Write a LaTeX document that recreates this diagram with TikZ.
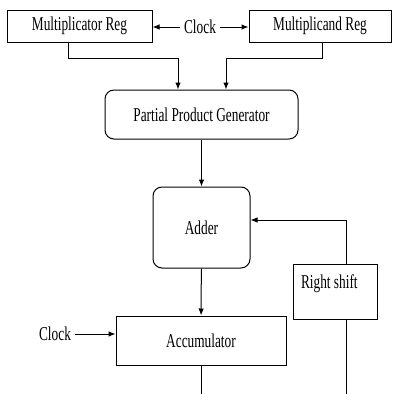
\documentclass[tikz,border=0pt]{standalone}
\usepackage{fontspec}
\setmainfont{Liberation Serif}[FakeStretch=0.68]
\usetikzlibrary{arrows.meta, positioning}

\begin{document}
\begin{tikzpicture}[x=1pt,y=-1pt,>={Latex[length=7pt,width=5.5pt]},line width=1pt,
  font=\fontsize{19.6}{22}\selectfont,
  block/.style={draw,inner sep=0pt,minimum height=32pt},
  roundblock/.style={draw,rounded corners=9pt,inner sep=0pt}]
\useasboundingbox (0,0) rectangle (392,394);

% define the blocks
  \node[block, minimum width=145pt] (mreg) at (79.5,26) {Multiplicator Reg};
  \node (clk1) at (200,27) {Clock};
  \node[block, minimum width=142pt] (mdreg) at (320,26) {Multiplicand Reg};
  \node[roundblock, minimum width=193pt, minimum height=49pt] (ppg) at (201.5,114.5)
{Partial Product Generator};
  \node[roundblock, minimum width=97pt, minimum height=81pt] (adder) at (201.5,227.5)
{Adder};
  \node[block, minimum width=170pt, minimum height=49pt] (acc) at (201,340.5)
{Accumulator};
  \node (clk2) at (55,334) {Clock};
  \node[draw, inner xsep=8pt, inner ysep=0pt, text height=24pt, text depth=31pt]
    (rshift) at (335,291.5) {\makebox[68pt][l]{Right shift}};

% free ends at the bottom
  \coordinate (accout) at (201,394);
  \coordinate (shout) at (346,394);

% define the links
  \draw[->] (clk1.west) -- (clk1.west -| mreg.east);
  \draw[->] (clk1.east) -- (clk1.east -| mdreg.west);
  \draw[->] ([xshift=-11.5pt]mreg.south) -- ++(0,16) -| ([xshift=-23.5pt]ppg.north);
  \draw[->] ([xshift=2pt]mdreg.south) -- ++(0,16) -| ([xshift=24.5pt]ppg.north);
  \draw[->] (ppg) -- (adder);
  \draw[->] (adder) -- (acc);
  \draw[->] ([xshift=11pt]rshift.north) |- ([yshift=7.5pt]adder.east);
  \draw[->] (clk2.east) -- (clk2.east -| acc.west);
  \draw (acc.south) -- (accout);
  \draw ([xshift=11pt]rshift.south) -- (shout);

\end{tikzpicture}
\end{document}
